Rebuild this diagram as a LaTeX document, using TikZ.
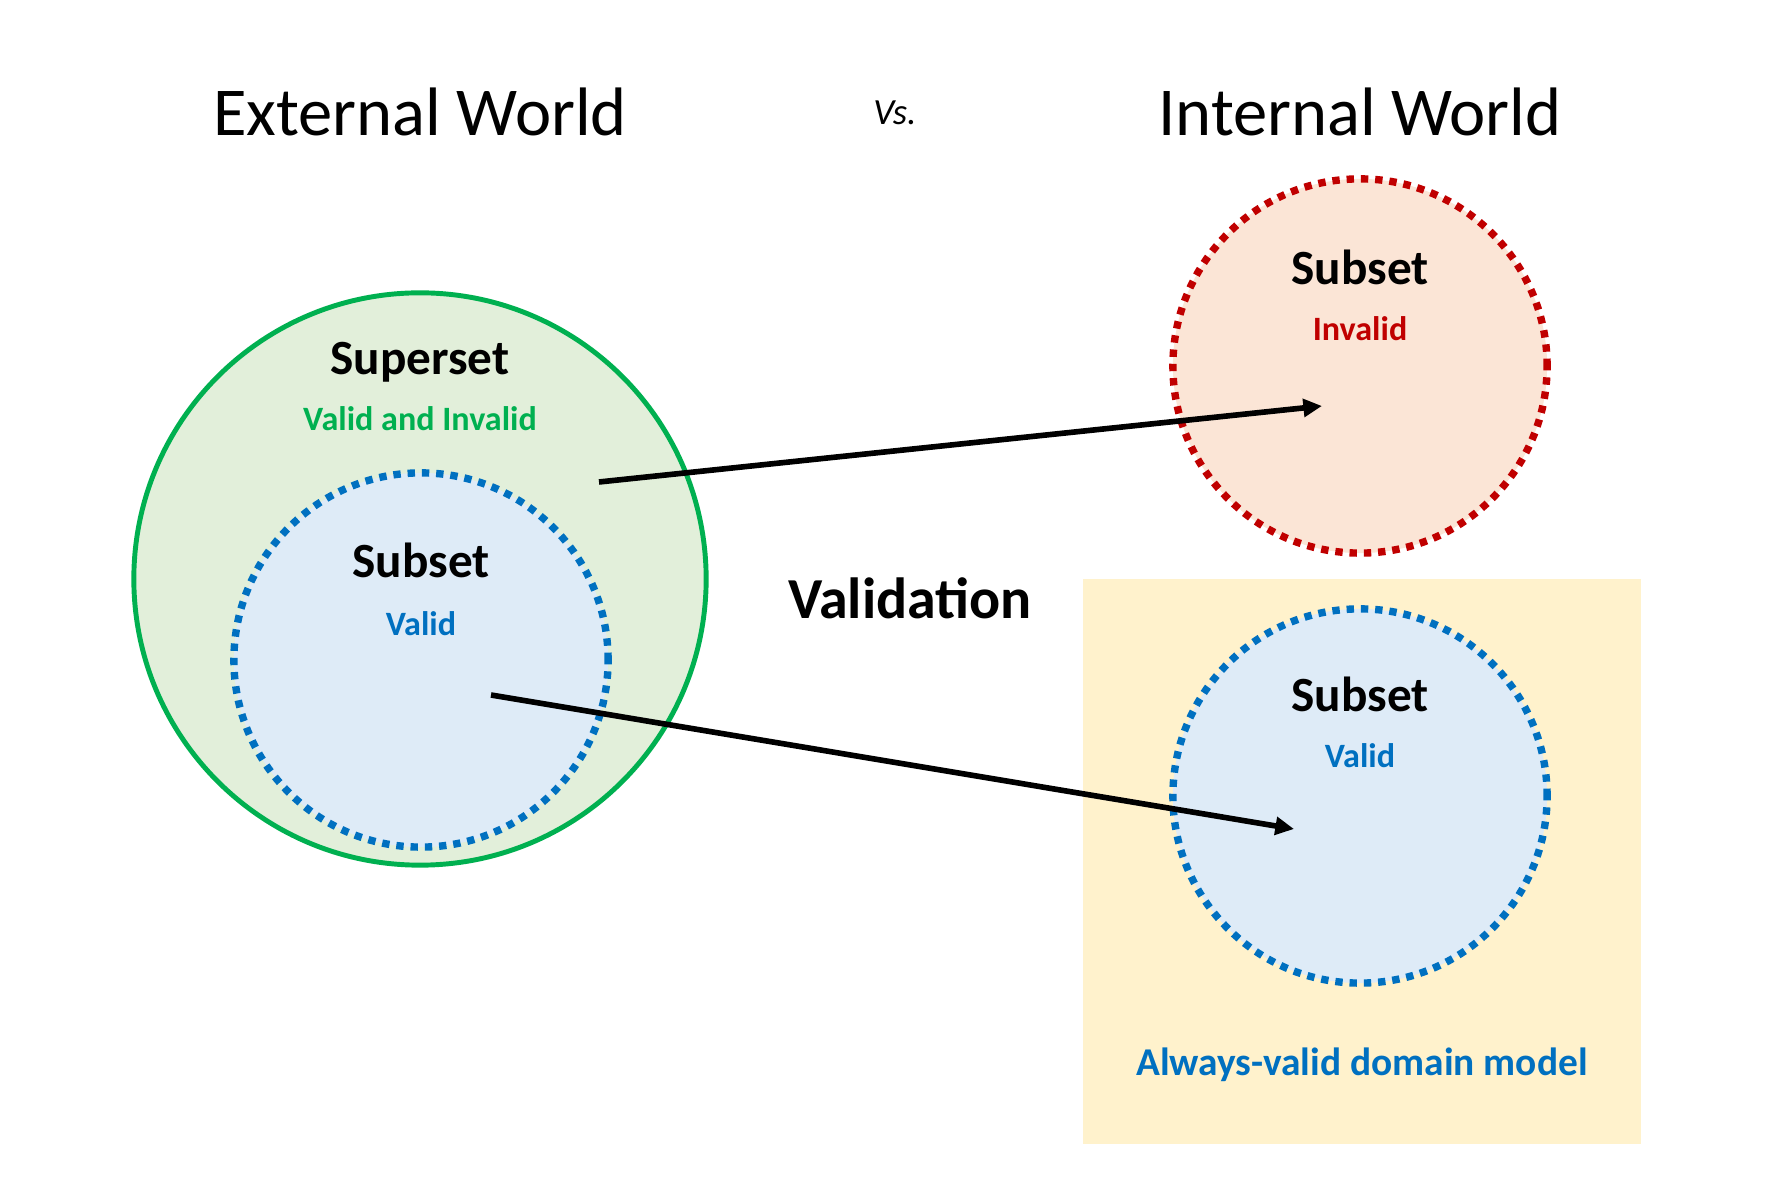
\documentclass[tikz,border=0pt]{standalone}
\usepackage{fontspec}
\setmainfont{Carlito}
\usepackage{tikz}
\usetikzlibrary{arrows.meta}

\definecolor{setgreen}{HTML}{00B050}
\definecolor{greenfill}{HTML}{E2EFDA}
\definecolor{setblue}{HTML}{0070C0}
\definecolor{bluefill}{HTML}{DEEBF7}
\definecolor{setred}{HTML}{C00000}
\definecolor{redfill}{HTML}{FBE5D6}
\definecolor{modelfill}{HTML}{FFF2CC}

\tikzset{
  title/.style={anchor=base, font=\fontsize{19.5}{22}\selectfont},
  setname/.style={anchor=base, font=\bfseries\fontsize{14}{16}\selectfont},
  setkind/.style={anchor=base, font=\bfseries\fontsize{9.7}{12}\selectfont},
  dotted set/.style={circle, line width=2.1pt, dash pattern=on 2.1pt off 1.962pt, minimum size=3.74cm},
  link/.style={line width=1.6pt, -{Triangle[length=5.3pt,width=5pt]}}
}

\begin{document}
\begin{tikzpicture}[x=0.01cm,y=-0.01cm]
            \useasboundingbox (0,0) rectangle (1772,1201);
            % headings
            \node[title] (external) at (420,136) {External World};
            \node[anchor=base, font=\itshape\fontsize{10.5}{12}\selectfont] (vs) at (895,125) {Vs.};
            \node[title] (internal) at (1360,136) {Internal World};
            % domain model box
            \fill[modelfill] (1083,579) rectangle (1641,1144);
            % sets
            \node[circle, draw=setgreen, fill=greenfill, line width=1.4pt, minimum size=5.72cm] (superset) at (420,579) {};
            \node[dotted set, draw=setblue, fill=bluefill] (validout) at (421,660) {};
            \node[dotted set, draw=setred, fill=redfill] (invalidin) at (1360,366) {};
            \node[dotted set, draw=setblue, fill=bluefill] (validin) at (1360,796) {};
            % labels
            \node[setname] (supername) at (420,375) {Superset};
            \node[setkind, text=setgreen] (superkind) at (420,431) {Valid and Invalid};
            \node[setname] (validoutname) at (421,578) {Subset};
            \node[setkind, text=setblue] (validoutkind) at (421,636) {Valid};
            \node[setname] (invalidname) at (1360,285) {Subset};
            \node[setkind, text=setred] (invalidkind) at (1360,341) {Invalid};
            \node[setname] (validinname) at (1360,712) {Subset};
            \node[setkind, text=setblue] (validinkind) at (1360,768) {Valid};
            \node[anchor=base, font=\bfseries\fontsize{16.5}{19}\selectfont] (validation) at (910,619) {Validation};
            \node[anchor=base, text=setblue, font=\bfseries\fontsize{11.2}{13}\selectfont] (model) at (1362,1076) {Always-valid domain model};
            % validation arrows
            \coordinate (supertail) at (599,482);
            \coordinate (invalidhead) at (1322,406);
            \coordinate (validtail) at (491,695);
            \coordinate (validhead) at (1294,829);
            \draw[link] (supertail) -- (invalidhead);
            \draw[link] (validtail) -- (validhead);
        \end{tikzpicture}
\end{document}
